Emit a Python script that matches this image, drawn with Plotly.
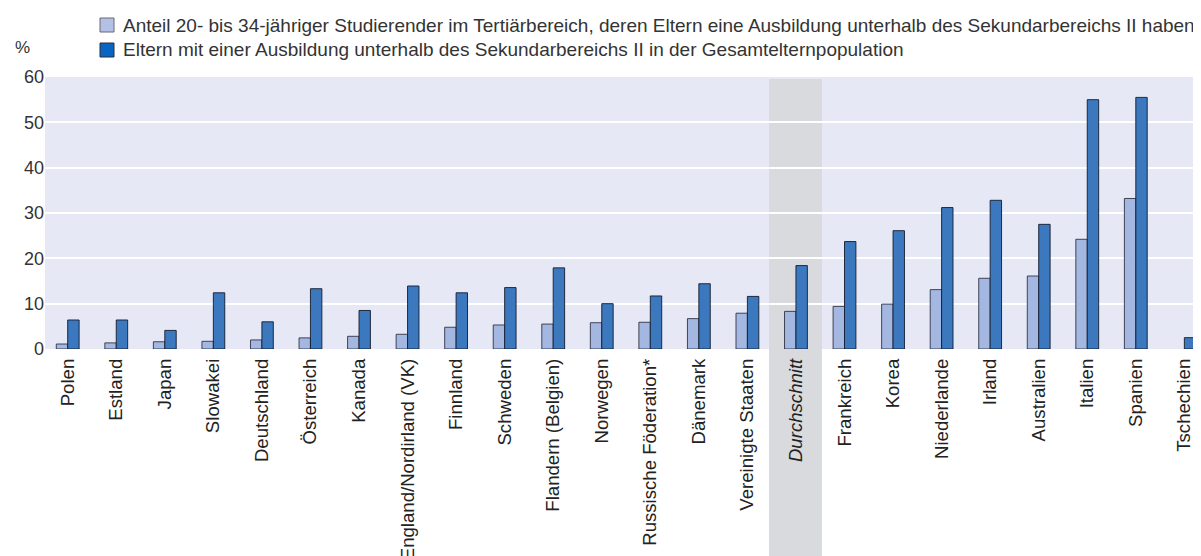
import plotly.graph_objects as go

categories = ["Polen", "Estland", "Japan", "Slowakei", "Deutschland", "Österreich", "Kanada",
              "England/Nordirland (VK)", "Finnland", "Schweden", "Flandern (Belgien)", "Norwegen",
              "Russische Föderation*", "Dänemark", "Vereinigte Staaten", "Durchschnitt",
              "Frankreich", "Korea", "Niederlande", "Irland", "Australien", "Italien", "Spanien",
              "Tschechien"]

students = [1.1, 1.35, 1.6, 1.7, 2.0, 2.45, 2.8, 3.25, 4.8, 5.3, 5.5, 5.8, 5.9, 6.7, 7.9, 8.3,
            9.4, 9.9, 13.1, 15.6, 16.1, 24.2, 33.2, None]
parents = [6.4, 6.4, 4.1, 12.4, 6.0, 13.3, 8.5, 13.9, 12.4, 13.55, 17.9, 10.0, 11.7, 14.4, 11.6,
           18.4, 23.7, 26.1, 31.2, 32.8, 27.5, 55.0, 55.5, 2.5]

legend_names = ["Anteil 20- bis 34-jähriger Studierender im Tertiärbereich, deren Eltern eine Ausbildung unterhalb des Sekundarbereichs II haben",
                "Eltern mit einer Ausbildung unterhalb des Sekundarbereichs II in der Gesamtelternpopulation"]
legend_colors = ["#b4c0e6", "#0a64c4"]
legend_borders = ["#666a75", "#2a2f3a"]

avg_label = "Durchschnitt"
tick_text = [f"<i>{c}</i>" if c == avg_label else c for c in categories]
xs = list(range(len(categories)))
avg_idx = categories.index(avg_label)

FONT = "Liberation Sans, Arial, sans-serif"
LIGHT = "#a4b7e1"
DARK = "#3b78be"
W = 0.235

# The page body has an 8px default margin: the figure is sized to fill the rest of the window.
OFF = 8
WIDTH, HEIGHT = 1201 - OFF, 556 - OFF
ML, MR, MT, MB = 45 - OFF, 0, 77 - OFF, 556 - 349
PW = WIDTH - ML - MR
PH = HEIGHT - MT - MB


def px_x(px):
    """window pixel -> paper x"""
    return (px - OFF - ML) / PW


def px_y(py):
    """window pixel -> paper y"""
    return (HEIGHT - MB - (py - OFF)) / PH


fig = go.Figure()
fig.add_trace(go.Bar(x=xs, y=students, width=W, offset=-W, name=legend_names[0],
                     marker=dict(color=LIGHT, line=dict(color="rgba(40,44,60,0.85)", width=1)),
                     showlegend=False, hoverinfo="y"))
fig.add_trace(go.Bar(x=xs, y=parents, width=W, offset=0, name=legend_names[1],
                     marker=dict(color=DARK, line=dict(color="rgba(20,28,45,0.9)", width=1)),
                     showlegend=False, hoverinfo="y"))

# highlighted average column
fig.add_shape(type="rect", xref="x", yref="paper", x0=avg_idx - 0.555, x1=avg_idx + 0.535,
              y0=px_y(560), y1=px_y(77 + 2),
              fillcolor="#d9dadd", line=dict(width=0), layer="below")

# legend (drawn manually for exact spacing)
for i, (name, col, bcol) in enumerate(zip(legend_names, legend_colors, legend_borders)):
    cy = 25 + 25 * i
    fig.add_shape(type="rect", xref="paper", yref="paper",
                  x0=px_x(100), x1=px_x(114), y0=px_y(cy + 7), y1=px_y(cy - 7),
                  fillcolor=col, line=dict(color=bcol, width=1))
    fig.add_annotation(text=name, xref="paper", yref="paper", x=px_x(121), y=px_y(cy),
                       xanchor="left", yanchor="middle", showarrow=False,
                       font=dict(family=FONT, size=19, color="#333"))

fig.add_annotation(text="%", xref="paper", yref="paper", x=px_x(22), y=px_y(48),
                   xanchor="center", yanchor="middle", showarrow=False,
                   font=dict(family=FONT, size=17, color="#333"))

fig.update_layout(
    width=WIDTH, height=HEIGHT,
    margin=dict(l=ML, r=MR, t=MT, b=MB),
    paper_bgcolor="white", plot_bgcolor="#e6e8f5",
    barmode="overlay", showlegend=False,
    font=dict(family=FONT, size=17, color="#333"),
    xaxis=dict(range=[-0.4676, 23.343], tickmode="array", tickvals=xs, ticktext=tick_text, tickangle=-90,
               showgrid=False, zeroline=False, ticks="", automargin=False, ticklabelstandoff=5,
               tickfont=dict(family=FONT, size=18.6, color="#222"), fixedrange=True),
    yaxis=dict(range=[0, 60], tickvals=[0, 10, 20, 30, 40, 50, 60], showgrid=True, gridcolor="white", gridwidth=2,
               zeroline=False, ticks="", automargin=False,
               tickfont=dict(family=FONT, size=18, color="#333"), fixedrange=True),
)

fig.write_html("out.html")
